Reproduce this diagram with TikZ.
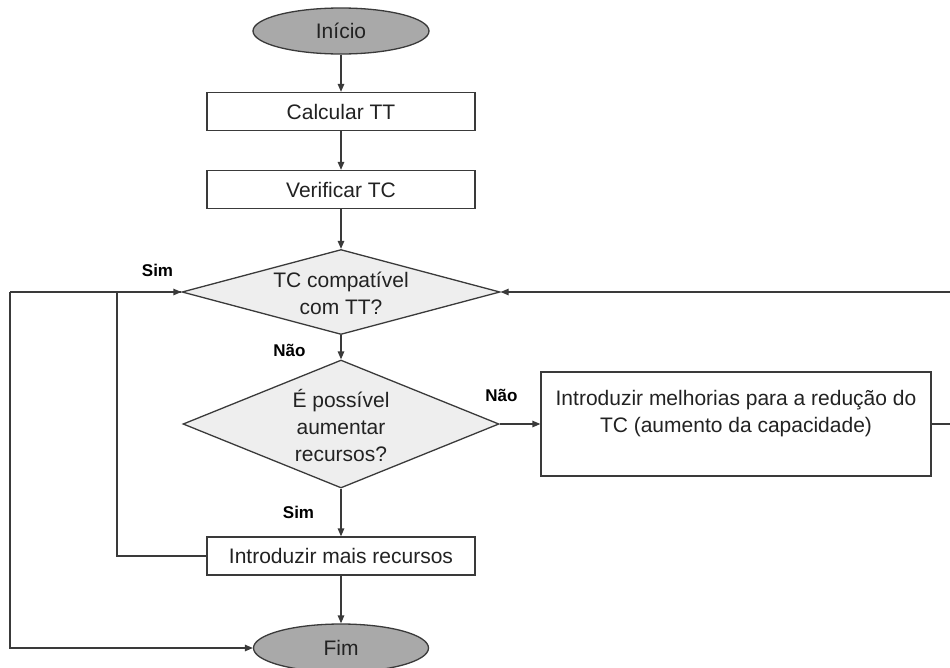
\documentclass[tikz,border=0pt]{standalone}
\usepackage{fontspec}
\setmainfont{Liberation Sans}
\usetikzlibrary{shapes.geometric,arrows.meta}

\definecolor{linecol}{HTML}{3A3A3A}
\definecolor{termfill}{HTML}{A9A9A9}
\definecolor{decfill}{HTML}{EEEEEE}
\definecolor{txtcol}{HTML}{222222}

\tikzset{
  base/.style={draw=linecol, line width=1.3pt, text=txtcol,
    font=\fontsize{21}{27}\selectfont, inner sep=0pt},
  term/.style={base, ellipse, fill=termfill},
  procbox/.style={base, rectangle, fill=white, minimum width=268pt, minimum height=38pt},
  decision/.style={base, diamond, fill=decfill},
  dectext/.style={align=center, text=txtcol, font=\fontsize{21}{27}\selectfont, inner sep=0pt},
  answer/.style={font=\bfseries\fontsize{17}{20}\selectfont, text=black, inner sep=0pt},
  flow/.style={draw=linecol, line width=1.3pt, -{Triangle[length=8pt,width=6.5pt]}},
  plain/.style={draw=linecol, line width=1.3pt}
}

\begin{document}
\begin{tikzpicture}[x=1pt, y=-1pt]
\useasboundingbox (0,0) rectangle (950,667);

% main column
\node[term, minimum width=176pt, minimum height=46pt] (inicio) at (341,31) {Início};
\node[procbox] (calc) at (341,111.5) {Calcular TT};
\node[procbox] (verif) at (341,189.5) {Verificar TC};
\node[decision, minimum width=318pt, minimum height=85pt] (d1) at (341,292) {};
\node[dectext] (d1t) at (341,293.5) {TC compatível\\com TT?};
\node[decision, minimum width=316pt, minimum height=128pt] (d2) at (341,424) {};
\node[dectext] (d2t) at (341,425) {É possível\\aumentar\\recursos?};
\node[procbox] (mais) at (341,556) {Introduzir mais recursos};
\node[term, minimum width=175pt, minimum height=48pt] (fim) at (341,648) {Fim};

% improvement box on the right
\node[base, rectangle, fill=white, minimum width=390pt, minimum height=104pt, align=center]
  (melhor) at (736,424)
  {Introduzir melhorias para a redução do\\TC (aumento da capacidade)\rule[-25pt]{0pt}{0pt}};

% branch labels
\node[answer] (simA) at (157.5,270) {Sim};
\node[answer] (naoA) at (289.5,350) {Não};
\node[answer] (naoB) at (501.5,395) {Não};
\node[answer] (simB) at (298.5,512) {Sim};

% bends of the return lines
\coordinate (jA) at (117,292);
\coordinate (jB) at (10,292);
\coordinate (jC) at (956,292);

% straight flow
\draw[flow] (inicio.south) -- (calc.north);
\draw[flow] (calc.south) -- (verif.north);
\draw[flow] (verif.south) -- (d1.north);
\draw[flow] (d1.south) -- (d2.north);
\draw[flow] (d2.east) -- (melhor.west);
\draw[flow] (d2.south) -- (mais.north);
\draw[flow] (mais.south) -- (fim.north);

% return lines
\draw[flow] (mais.west) -| (jA) -- (d1.west);
\draw[plain] (d1.west) -- (jB);
\draw[flow] (jB) |- (fim.west);
\draw[flow] (melhor.east) -| (jC) -- (d1.east);
\end{tikzpicture}
\end{document}
